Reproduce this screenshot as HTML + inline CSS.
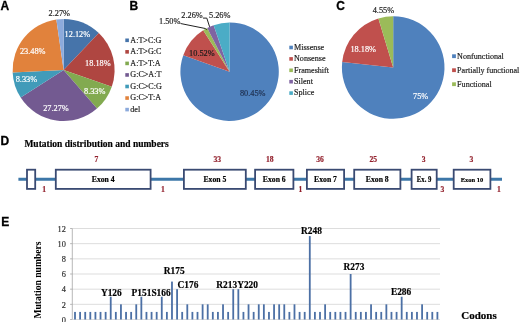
<!DOCTYPE html><html><head><meta charset="utf-8"><style>html,body{margin:0;padding:0;background:#fff;}svg{display:block;will-change:transform;filter:blur(0.3px)}</style></head><body>
<svg width="520" height="322" viewBox="0 0 520 322">
<rect width="520" height="322" fill="#fff"/>
<text x="0.6" y="9.9" font-family="'Liberation Sans', sans-serif" font-size="12" font-weight="bold" fill="#000" stroke="#000" stroke-width="0.3" text-anchor="start" >A</text>
<text x="129.4" y="9.9" font-family="'Liberation Sans', sans-serif" font-size="12" font-weight="bold" fill="#000" stroke="#000" stroke-width="0.3" text-anchor="start" >B</text>
<text x="336.2" y="9.9" font-family="'Liberation Sans', sans-serif" font-size="12" font-weight="bold" fill="#000" stroke="#000" stroke-width="0.3" text-anchor="start" >C</text>
<text x="0.6" y="144.8" font-family="'Liberation Sans', sans-serif" font-size="12" font-weight="bold" fill="#000" stroke="#000" stroke-width="0.3" text-anchor="start" >D</text>
<text x="1.2" y="225.5" font-family="'Liberation Sans', sans-serif" font-size="12" font-weight="bold" fill="#000" stroke="#000" stroke-width="0.3" text-anchor="start" >E</text>
<path d="M63.60,70.00 L63.60,19.00 A51.0,51.0 0 0 1 98.80,33.09 Z" fill="#4674AA"/>
<path d="M63.60,70.00 L98.80,33.09 A51.0,51.0 0 0 1 111.79,86.69 Z" fill="#AF4641"/>
<path d="M63.60,70.00 L111.79,86.69 A51.0,51.0 0 0 1 96.99,108.55 Z" fill="#82AA50"/>
<path d="M63.60,70.00 L96.99,108.55 A51.0,51.0 0 0 1 20.69,97.56 Z" fill="#735A91"/>
<path d="M63.60,70.00 L20.69,97.56 A51.0,51.0 0 0 1 12.66,72.42 Z" fill="#419BB9"/>
<path d="M63.60,70.00 L12.66,72.42 A51.0,51.0 0 0 1 56.35,19.52 Z" fill="#E1823C"/>
<path d="M63.60,70.00 L56.35,19.52 A51.0,51.0 0 0 1 63.60,19.00 Z" fill="#8CAADC"/>
<text x="48.6" y="15.8" font-family="'Liberation Serif', serif" font-size="8.3" font-weight="normal" fill="#222" stroke="#222" stroke-width="0.18" text-anchor="start" >2.27%</text>
<text x="64.6" y="37.0" font-family="'Liberation Serif', serif" font-size="8.3" font-weight="normal" fill="#fff" stroke="#fff" stroke-width="0.18" text-anchor="start" >12.12%</text>
<text x="85.1" y="66.0" font-family="'Liberation Serif', serif" font-size="8.3" font-weight="normal" fill="#fff" stroke="#fff" stroke-width="0.18" text-anchor="start" >18.18%</text>
<text x="84.0" y="94.3" font-family="'Liberation Serif', serif" font-size="8.3" font-weight="normal" fill="#fff" stroke="#fff" stroke-width="0.18" text-anchor="start" >8.33%</text>
<text x="43.2" y="111.4" font-family="'Liberation Serif', serif" font-size="8.3" font-weight="normal" fill="#fff" stroke="#fff" stroke-width="0.18" text-anchor="start" >27.27%</text>
<text x="15.7" y="82.2" font-family="'Liberation Serif', serif" font-size="8.3" font-weight="normal" fill="#fff" stroke="#fff" stroke-width="0.18" text-anchor="start" >8.33%</text>
<text x="19.9" y="54.3" font-family="'Liberation Serif', serif" font-size="8.3" font-weight="normal" fill="#fff" stroke="#fff" stroke-width="0.18" text-anchor="start" >23.48%</text>
<rect x="125.3" y="38.50" width="3.6" height="3.6" fill="#4674AA"/>
<text x="130.3" y="42.6" font-family="'Liberation Serif', serif" font-size="8.1" font-weight="normal" fill="#222" stroke="#222" stroke-width="0.18" text-anchor="start" >A:T&gt;C:G</text>
<rect x="125.3" y="50.05" width="3.6" height="3.6" fill="#AF4641"/>
<text x="130.3" y="54.15" font-family="'Liberation Serif', serif" font-size="8.1" font-weight="normal" fill="#222" stroke="#222" stroke-width="0.18" text-anchor="start" >A:T&gt;G:C</text>
<rect x="125.3" y="61.60" width="3.6" height="3.6" fill="#82AA50"/>
<text x="130.3" y="65.7" font-family="'Liberation Serif', serif" font-size="8.1" font-weight="normal" fill="#222" stroke="#222" stroke-width="0.18" text-anchor="start" >A:T&gt;T:A</text>
<rect x="125.3" y="73.15" width="3.6" height="3.6" fill="#735A91"/>
<text x="130.3" y="77.25" font-family="'Liberation Serif', serif" font-size="8.1" font-weight="normal" fill="#222" stroke="#222" stroke-width="0.18" text-anchor="start" >G:C&gt;A:T</text>
<rect x="125.3" y="84.70" width="3.6" height="3.6" fill="#419BB9"/>
<text x="130.3" y="88.8" font-family="'Liberation Serif', serif" font-size="8.1" font-weight="normal" fill="#222" stroke="#222" stroke-width="0.18" text-anchor="start" >G:C&gt;C:G</text>
<rect x="125.3" y="96.25" width="3.6" height="3.6" fill="#E1823C"/>
<text x="130.3" y="100.35" font-family="'Liberation Serif', serif" font-size="8.1" font-weight="normal" fill="#222" stroke="#222" stroke-width="0.18" text-anchor="start" >G:C&gt;T:A</text>
<rect x="125.3" y="107.80" width="3.6" height="3.6" fill="#8CAADC"/>
<text x="130.3" y="111.9" font-family="'Liberation Serif', serif" font-size="8.1" font-weight="normal" fill="#222" stroke="#222" stroke-width="0.18" text-anchor="start" >del</text>
<path d="M229.60,71.70 L229.60,22.50 A49.2,49.2 0 1 1 183.26,55.16 Z" fill="#4F81BD"/>
<path d="M229.60,71.70 L183.26,55.16 A49.2,49.2 0 0 1 203.18,30.19 Z" fill="#C0504D"/>
<path d="M229.60,71.70 L203.18,30.19 A49.2,49.2 0 0 1 207.21,27.89 Z" fill="#9BBB59"/>
<path d="M229.60,71.70 L207.21,27.89 A49.2,49.2 0 0 1 213.63,25.16 Z" fill="#8064A2"/>
<path d="M229.60,71.70 L213.63,25.16 A49.2,49.2 0 0 1 229.60,22.50 Z" fill="#4BACC6"/>
<text x="159.0" y="24.0" font-family="'Liberation Serif', serif" font-size="8.3" font-weight="normal" fill="#222" stroke="#222" stroke-width="0.18" text-anchor="start" >1.50%</text>
<text x="181.3" y="17.6" font-family="'Liberation Serif', serif" font-size="8.3" font-weight="normal" fill="#222" stroke="#222" stroke-width="0.18" text-anchor="start" >2.26%</text>
<text x="209.0" y="17.6" font-family="'Liberation Serif', serif" font-size="8.3" font-weight="normal" fill="#222" stroke="#222" stroke-width="0.18" text-anchor="start" >5.26%</text>
<text x="189.1" y="55.5" font-family="'Liberation Serif', serif" font-size="8.3" font-weight="normal" fill="#1a1a1a" stroke="#1a1a1a" stroke-width="0.18" text-anchor="start" >10.52%</text>
<text x="239.9" y="95.5" font-family="'Liberation Serif', serif" font-size="8.3" font-weight="normal" fill="#1f3050" stroke="#1f3050" stroke-width="0.18" text-anchor="start" >80.45%</text>
<polyline points="180.5,23.5 205.3,28.5 206.8,29.8" fill="none" stroke="#222" stroke-width="1.0"/>
<polyline points="203,18.1 206.8,18.1 209.6,26.8" fill="none" stroke="#222" stroke-width="1.0"/>
<rect x="289.3" y="45.70" width="3.6" height="3.6" fill="#4F81BD"/>
<text x="294.0" y="49.8" font-family="'Liberation Serif', serif" font-size="8.1" font-weight="normal" fill="#222" stroke="#222" stroke-width="0.18" text-anchor="start" >Missense</text>
<rect x="289.3" y="57.10" width="3.6" height="3.6" fill="#C0504D"/>
<text x="294.0" y="61.2" font-family="'Liberation Serif', serif" font-size="8.1" font-weight="normal" fill="#222" stroke="#222" stroke-width="0.18" text-anchor="start" >Nonsense</text>
<rect x="289.3" y="68.50" width="3.6" height="3.6" fill="#9BBB59"/>
<text x="294.0" y="72.6" font-family="'Liberation Serif', serif" font-size="8.1" font-weight="normal" fill="#222" stroke="#222" stroke-width="0.18" text-anchor="start" >Frameshift</text>
<rect x="289.3" y="79.90" width="3.6" height="3.6" fill="#8064A2"/>
<text x="294.0" y="84.0" font-family="'Liberation Serif', serif" font-size="8.1" font-weight="normal" fill="#222" stroke="#222" stroke-width="0.18" text-anchor="start" >Silent</text>
<rect x="289.3" y="91.30" width="3.6" height="3.6" fill="#4BACC6"/>
<text x="294.0" y="95.4" font-family="'Liberation Serif', serif" font-size="8.1" font-weight="normal" fill="#222" stroke="#222" stroke-width="0.18" text-anchor="start" >Splice</text>
<path d="M393.20,67.50 L393.20,16.20 A51.3,51.3 0 1 1 342.21,61.90 Z" fill="#4F81BD"/>
<path d="M393.20,67.50 L342.21,61.90 A51.3,51.3 0 0 1 378.41,18.38 Z" fill="#C0504D"/>
<path d="M393.20,67.50 L378.41,18.38 A51.3,51.3 0 0 1 393.20,16.20 Z" fill="#9BBB59"/>
<text x="372.7" y="13.1" font-family="'Liberation Serif', serif" font-size="8.3" font-weight="normal" fill="#222" stroke="#222" stroke-width="0.18" text-anchor="start" >4.55%</text>
<text x="350.4" y="52.1" font-family="'Liberation Serif', serif" font-size="8.3" font-weight="normal" fill="#fff" stroke="#fff" stroke-width="0.18" text-anchor="start" >18.18%</text>
<text x="413.0" y="98.5" font-family="'Liberation Serif', serif" font-size="8.3" font-weight="normal" fill="#fff" stroke="#fff" stroke-width="0.18" text-anchor="start" >75%</text>
<rect x="452.1" y="54.30" width="3.8" height="3.8" fill="#4F81BD"/>
<text x="457.1" y="58.6" font-family="'Liberation Serif', serif" font-size="8.1" font-weight="normal" fill="#222" stroke="#222" stroke-width="0.18" text-anchor="start" >Nonfunctional</text>
<rect x="452.1" y="68.30" width="3.8" height="3.8" fill="#C0504D"/>
<text x="457.1" y="72.6" font-family="'Liberation Serif', serif" font-size="8.1" font-weight="normal" fill="#222" stroke="#222" stroke-width="0.18" text-anchor="start" >Partially functional</text>
<rect x="452.1" y="82.30" width="3.8" height="3.8" fill="#9BBB59"/>
<text x="457.1" y="86.6" font-family="'Liberation Serif', serif" font-size="8.1" font-weight="normal" fill="#222" stroke="#222" stroke-width="0.18" text-anchor="start" >Functional</text>
<text x="24.4" y="146.8" font-family="'Liberation Serif', serif" font-size="9.5" font-weight="bold" fill="#000" stroke="#000" stroke-width="0.18" text-anchor="start" >Mutation distribution and numbers</text>
<line x1="18.4" y1="179.2" x2="502" y2="179.2" stroke="#3D77A8" stroke-width="3.0"/>
<rect x="27.00" y="169.70" width="8.20" height="19.20" fill="#fff" stroke="#3A4A72" stroke-width="1.8"/>
<rect x="55.80" y="169.70" width="94.80" height="19.20" fill="#fff" stroke="#3A4A72" stroke-width="1.8"/>
<text x="103.2" y="181.8" font-family="'Liberation Serif', serif" font-size="7.7" font-weight="bold" fill="#000" stroke="#000" stroke-width="0.18" text-anchor="middle" >Exon 4</text>
<rect x="183.90" y="169.70" width="61.90" height="19.20" fill="#fff" stroke="#3A4A72" stroke-width="1.8"/>
<text x="214.85" y="181.8" font-family="'Liberation Serif', serif" font-size="7.7" font-weight="bold" fill="#000" stroke="#000" stroke-width="0.18" text-anchor="middle" >Exon 5</text>
<rect x="255.10" y="169.70" width="38.30" height="19.20" fill="#fff" stroke="#3A4A72" stroke-width="1.8"/>
<text x="274.25" y="181.8" font-family="'Liberation Serif', serif" font-size="7.7" font-weight="bold" fill="#000" stroke="#000" stroke-width="0.18" text-anchor="middle" >Exon 6</text>
<rect x="306.90" y="169.70" width="37.20" height="19.20" fill="#fff" stroke="#3A4A72" stroke-width="1.8"/>
<text x="325.5" y="181.8" font-family="'Liberation Serif', serif" font-size="7.7" font-weight="bold" fill="#000" stroke="#000" stroke-width="0.18" text-anchor="middle" >Exon 7</text>
<rect x="354.20" y="169.70" width="46.20" height="19.20" fill="#fff" stroke="#3A4A72" stroke-width="1.8"/>
<text x="377.3" y="181.8" font-family="'Liberation Serif', serif" font-size="7.7" font-weight="bold" fill="#000" stroke="#000" stroke-width="0.18" text-anchor="middle" >Exon 8</text>
<rect x="411.60" y="169.70" width="25.10" height="19.20" fill="#fff" stroke="#3A4A72" stroke-width="1.8"/>
<text x="424.15" y="181.8" font-family="'Liberation Serif', serif" font-size="7.3" font-weight="bold" fill="#000" stroke="#000" stroke-width="0.18" text-anchor="middle" textLength="14.6" lengthAdjust="spacingAndGlyphs">Ex. 9</text>
<rect x="453.70" y="169.70" width="36.70" height="19.20" fill="#fff" stroke="#3A4A72" stroke-width="1.8"/>
<text x="472.05" y="181.8" font-family="'Liberation Serif', serif" font-size="7.0" font-weight="bold" fill="#000" stroke="#000" stroke-width="0.18" text-anchor="middle" textLength="22.6" lengthAdjust="spacingAndGlyphs">Exon 10</text>
<text x="96.5" y="161.6" font-family="'Liberation Serif', serif" font-size="7.6" font-weight="bold" fill="#921F2B" stroke="#921F2B" stroke-width="0.18" text-anchor="middle" >7</text>
<text x="217.2" y="161.6" font-family="'Liberation Serif', serif" font-size="7.6" font-weight="bold" fill="#921F2B" stroke="#921F2B" stroke-width="0.18" text-anchor="middle" >33</text>
<text x="269.8" y="161.6" font-family="'Liberation Serif', serif" font-size="7.6" font-weight="bold" fill="#921F2B" stroke="#921F2B" stroke-width="0.18" text-anchor="middle" >18</text>
<text x="320.0" y="161.6" font-family="'Liberation Serif', serif" font-size="7.6" font-weight="bold" fill="#921F2B" stroke="#921F2B" stroke-width="0.18" text-anchor="middle" >36</text>
<text x="373.2" y="161.6" font-family="'Liberation Serif', serif" font-size="7.6" font-weight="bold" fill="#921F2B" stroke="#921F2B" stroke-width="0.18" text-anchor="middle" >25</text>
<text x="423.7" y="161.6" font-family="'Liberation Serif', serif" font-size="7.6" font-weight="bold" fill="#921F2B" stroke="#921F2B" stroke-width="0.18" text-anchor="middle" >3</text>
<text x="471.4" y="161.6" font-family="'Liberation Serif', serif" font-size="7.6" font-weight="bold" fill="#921F2B" stroke="#921F2B" stroke-width="0.18" text-anchor="middle" >3</text>
<text x="44.2" y="191.6" font-family="'Liberation Serif', serif" font-size="7.6" font-weight="bold" fill="#921F2B" stroke="#921F2B" stroke-width="0.18" text-anchor="middle" >1</text>
<text x="163.0" y="191.6" font-family="'Liberation Serif', serif" font-size="7.6" font-weight="bold" fill="#921F2B" stroke="#921F2B" stroke-width="0.18" text-anchor="middle" >1</text>
<text x="300.5" y="191.6" font-family="'Liberation Serif', serif" font-size="7.6" font-weight="bold" fill="#921F2B" stroke="#921F2B" stroke-width="0.18" text-anchor="middle" >1</text>
<text x="442.5" y="191.6" font-family="'Liberation Serif', serif" font-size="7.6" font-weight="bold" fill="#921F2B" stroke="#921F2B" stroke-width="0.18" text-anchor="middle" >3</text>
<text x="499.0" y="191.6" font-family="'Liberation Serif', serif" font-size="7.6" font-weight="bold" fill="#921F2B" stroke="#921F2B" stroke-width="0.18" text-anchor="middle" >1</text>
<line x1="72.3" y1="304.33" x2="440.0" y2="304.33" stroke="#D9D9D9" stroke-width="0.9"/>
<line x1="72.3" y1="289.17" x2="440.0" y2="289.17" stroke="#D9D9D9" stroke-width="0.9"/>
<line x1="72.3" y1="274.00" x2="440.0" y2="274.00" stroke="#D9D9D9" stroke-width="0.9"/>
<line x1="72.3" y1="258.83" x2="440.0" y2="258.83" stroke="#D9D9D9" stroke-width="0.9"/>
<line x1="72.3" y1="243.67" x2="440.0" y2="243.67" stroke="#D9D9D9" stroke-width="0.9"/>
<line x1="72.3" y1="228.50" x2="440.0" y2="228.50" stroke="#D9D9D9" stroke-width="0.9"/>
<line x1="72.3" y1="228.50" x2="72.3" y2="319.5" stroke="#A6A6A6" stroke-width="0.8"/>
<line x1="72.3" y1="319.5" x2="440.0" y2="319.5" stroke="#CFCFCF" stroke-width="0.7"/>
<line x1="70.1" y1="319.50" x2="72.3" y2="319.50" stroke="#A6A6A6" stroke-width="0.8"/>
<text x="65.9" y="322.7" font-family="'Liberation Serif', serif" font-size="8.3" font-weight="normal" fill="#303030" stroke="#303030" stroke-width="0.18" text-anchor="end" >0</text>
<line x1="70.1" y1="304.33" x2="72.3" y2="304.33" stroke="#A6A6A6" stroke-width="0.8"/>
<text x="65.9" y="307.53" font-family="'Liberation Serif', serif" font-size="8.3" font-weight="normal" fill="#303030" stroke="#303030" stroke-width="0.18" text-anchor="end" >2</text>
<line x1="70.1" y1="289.17" x2="72.3" y2="289.17" stroke="#A6A6A6" stroke-width="0.8"/>
<text x="65.9" y="292.37" font-family="'Liberation Serif', serif" font-size="8.3" font-weight="normal" fill="#303030" stroke="#303030" stroke-width="0.18" text-anchor="end" >4</text>
<line x1="70.1" y1="274.00" x2="72.3" y2="274.00" stroke="#A6A6A6" stroke-width="0.8"/>
<text x="65.9" y="277.2" font-family="'Liberation Serif', serif" font-size="8.3" font-weight="normal" fill="#303030" stroke="#303030" stroke-width="0.18" text-anchor="end" >6</text>
<line x1="70.1" y1="258.83" x2="72.3" y2="258.83" stroke="#A6A6A6" stroke-width="0.8"/>
<text x="65.9" y="262.03" font-family="'Liberation Serif', serif" font-size="8.3" font-weight="normal" fill="#303030" stroke="#303030" stroke-width="0.18" text-anchor="end" >8</text>
<line x1="70.1" y1="243.67" x2="72.3" y2="243.67" stroke="#A6A6A6" stroke-width="0.8"/>
<text x="65.9" y="246.87" font-family="'Liberation Serif', serif" font-size="8.3" font-weight="normal" fill="#303030" stroke="#303030" stroke-width="0.18" text-anchor="end" >10</text>
<line x1="70.1" y1="228.50" x2="72.3" y2="228.50" stroke="#A6A6A6" stroke-width="0.8"/>
<text x="65.9" y="231.7" font-family="'Liberation Serif', serif" font-size="8.3" font-weight="normal" fill="#303030" stroke="#303030" stroke-width="0.18" text-anchor="end" >12</text>
<rect x="74.10" y="311.92" width="1.8" height="7.58" fill="#4C70A5"/>
<rect x="79.20" y="311.92" width="1.8" height="7.58" fill="#4C70A5"/>
<rect x="84.31" y="311.92" width="1.8" height="7.58" fill="#4C70A5"/>
<rect x="89.41" y="311.92" width="1.8" height="7.58" fill="#4C70A5"/>
<rect x="94.52" y="311.92" width="1.8" height="7.58" fill="#4C70A5"/>
<rect x="99.62" y="311.92" width="1.8" height="7.58" fill="#4C70A5"/>
<rect x="104.73" y="311.92" width="1.8" height="7.58" fill="#4C70A5"/>
<rect x="109.83" y="296.75" width="1.8" height="22.75" fill="#4C70A5"/>
<rect x="114.93" y="311.92" width="1.8" height="7.58" fill="#4C70A5"/>
<rect x="120.04" y="304.33" width="1.8" height="15.17" fill="#4C70A5"/>
<rect x="125.14" y="311.92" width="1.8" height="7.58" fill="#4C70A5"/>
<rect x="130.25" y="311.92" width="1.8" height="7.58" fill="#4C70A5"/>
<rect x="135.35" y="304.33" width="1.8" height="15.17" fill="#4C70A5"/>
<rect x="140.45" y="296.75" width="1.8" height="22.75" fill="#4C70A5"/>
<rect x="145.56" y="311.92" width="1.8" height="7.58" fill="#4C70A5"/>
<rect x="150.66" y="311.92" width="1.8" height="7.58" fill="#4C70A5"/>
<rect x="155.77" y="311.92" width="1.8" height="7.58" fill="#4C70A5"/>
<rect x="160.87" y="296.75" width="1.8" height="22.75" fill="#4C70A5"/>
<rect x="165.98" y="311.92" width="1.8" height="7.58" fill="#4C70A5"/>
<rect x="171.08" y="281.58" width="1.8" height="37.92" fill="#4C70A5"/>
<rect x="176.18" y="289.17" width="1.8" height="30.33" fill="#4C70A5"/>
<rect x="181.29" y="311.92" width="1.8" height="7.58" fill="#4C70A5"/>
<rect x="186.39" y="304.33" width="1.8" height="15.17" fill="#4C70A5"/>
<rect x="191.50" y="311.92" width="1.8" height="7.58" fill="#4C70A5"/>
<rect x="196.60" y="311.92" width="1.8" height="7.58" fill="#4C70A5"/>
<rect x="201.71" y="304.33" width="1.8" height="15.17" fill="#4C70A5"/>
<rect x="206.81" y="304.33" width="1.8" height="15.17" fill="#4C70A5"/>
<rect x="211.91" y="311.92" width="1.8" height="7.58" fill="#4C70A5"/>
<rect x="217.02" y="311.92" width="1.8" height="7.58" fill="#4C70A5"/>
<rect x="222.12" y="304.33" width="1.8" height="15.17" fill="#4C70A5"/>
<rect x="227.23" y="311.92" width="1.8" height="7.58" fill="#4C70A5"/>
<rect x="232.33" y="289.17" width="1.8" height="30.33" fill="#4C70A5"/>
<rect x="237.44" y="289.17" width="1.8" height="30.33" fill="#4C70A5"/>
<rect x="242.54" y="311.92" width="1.8" height="7.58" fill="#4C70A5"/>
<rect x="247.64" y="304.33" width="1.8" height="15.17" fill="#4C70A5"/>
<rect x="252.75" y="311.92" width="1.8" height="7.58" fill="#4C70A5"/>
<rect x="257.85" y="304.33" width="1.8" height="15.17" fill="#4C70A5"/>
<rect x="262.96" y="304.33" width="1.8" height="15.17" fill="#4C70A5"/>
<rect x="268.06" y="311.92" width="1.8" height="7.58" fill="#4C70A5"/>
<rect x="273.16" y="304.33" width="1.8" height="15.17" fill="#4C70A5"/>
<rect x="278.27" y="304.33" width="1.8" height="15.17" fill="#4C70A5"/>
<rect x="283.37" y="304.33" width="1.8" height="15.17" fill="#4C70A5"/>
<rect x="288.48" y="311.92" width="1.8" height="7.58" fill="#4C70A5"/>
<rect x="293.58" y="304.33" width="1.8" height="15.17" fill="#4C70A5"/>
<rect x="298.69" y="311.92" width="1.8" height="7.58" fill="#4C70A5"/>
<rect x="303.79" y="311.92" width="1.8" height="7.58" fill="#4C70A5"/>
<rect x="308.89" y="236.08" width="1.8" height="83.42" fill="#4C70A5"/>
<rect x="314.00" y="311.92" width="1.8" height="7.58" fill="#4C70A5"/>
<rect x="319.10" y="311.92" width="1.8" height="7.58" fill="#4C70A5"/>
<rect x="324.21" y="304.33" width="1.8" height="15.17" fill="#4C70A5"/>
<rect x="329.31" y="311.92" width="1.8" height="7.58" fill="#4C70A5"/>
<rect x="334.42" y="311.92" width="1.8" height="7.58" fill="#4C70A5"/>
<rect x="339.52" y="311.92" width="1.8" height="7.58" fill="#4C70A5"/>
<rect x="344.62" y="311.92" width="1.8" height="7.58" fill="#4C70A5"/>
<rect x="349.73" y="274.00" width="1.8" height="45.50" fill="#4C70A5"/>
<rect x="354.83" y="311.92" width="1.8" height="7.58" fill="#4C70A5"/>
<rect x="359.94" y="311.92" width="1.8" height="7.58" fill="#4C70A5"/>
<rect x="365.04" y="311.92" width="1.8" height="7.58" fill="#4C70A5"/>
<rect x="370.15" y="304.33" width="1.8" height="15.17" fill="#4C70A5"/>
<rect x="375.25" y="311.92" width="1.8" height="7.58" fill="#4C70A5"/>
<rect x="380.35" y="311.92" width="1.8" height="7.58" fill="#4C70A5"/>
<rect x="385.46" y="304.33" width="1.8" height="15.17" fill="#4C70A5"/>
<rect x="390.56" y="311.92" width="1.8" height="7.58" fill="#4C70A5"/>
<rect x="395.67" y="311.92" width="1.8" height="7.58" fill="#4C70A5"/>
<rect x="400.77" y="296.75" width="1.8" height="22.75" fill="#4C70A5"/>
<rect x="405.87" y="311.92" width="1.8" height="7.58" fill="#4C70A5"/>
<rect x="410.98" y="311.92" width="1.8" height="7.58" fill="#4C70A5"/>
<rect x="416.08" y="311.92" width="1.8" height="7.58" fill="#4C70A5"/>
<rect x="421.19" y="304.33" width="1.8" height="15.17" fill="#4C70A5"/>
<rect x="426.29" y="311.92" width="1.8" height="7.58" fill="#4C70A5"/>
<rect x="431.40" y="311.92" width="1.8" height="7.58" fill="#4C70A5"/>
<rect x="436.50" y="311.92" width="1.8" height="7.58" fill="#4C70A5"/>
<text x="100.9" y="295.5" font-family="'Liberation Serif', serif" font-size="9.4" font-weight="bold" fill="#000" stroke="#000" stroke-width="0.18" text-anchor="start" >Y126</text>
<text x="131.6" y="295.5" font-family="'Liberation Serif', serif" font-size="9.4" font-weight="bold" fill="#000" stroke="#000" stroke-width="0.18" text-anchor="start" >P151S166</text>
<text x="163.8" y="274.2" font-family="'Liberation Serif', serif" font-size="9.4" font-weight="bold" fill="#000" stroke="#000" stroke-width="0.18" text-anchor="start" >R175</text>
<text x="177.5" y="288.3" font-family="'Liberation Serif', serif" font-size="9.4" font-weight="bold" fill="#000" stroke="#000" stroke-width="0.18" text-anchor="start" >C176</text>
<text x="216.3" y="288.4" font-family="'Liberation Serif', serif" font-size="9.4" font-weight="bold" fill="#000" stroke="#000" stroke-width="0.18" text-anchor="start" >R213Y220</text>
<text x="301.1" y="234.2" font-family="'Liberation Serif', serif" font-size="9.4" font-weight="bold" fill="#000" stroke="#000" stroke-width="0.18" text-anchor="start" >R248</text>
<text x="343.5" y="270.4" font-family="'Liberation Serif', serif" font-size="9.4" font-weight="bold" fill="#000" stroke="#000" stroke-width="0.18" text-anchor="start" >R273</text>
<text x="390.9" y="295.1" font-family="'Liberation Serif', serif" font-size="9.4" font-weight="bold" fill="#000" stroke="#000" stroke-width="0.18" text-anchor="start" >E286</text>
<text x="461.3" y="318.5" font-family="'Liberation Serif', serif" font-size="11" font-weight="bold" fill="#000" stroke="#000" stroke-width="0.18" text-anchor="start" >Codons</text>
<text x="0" y="0" font-family="'Liberation Serif', serif" font-size="9.6" font-weight="bold" fill="#000" text-anchor="middle" transform="translate(40.6,280) rotate(-90)">Mutation numbers</text>
</svg></body></html>
